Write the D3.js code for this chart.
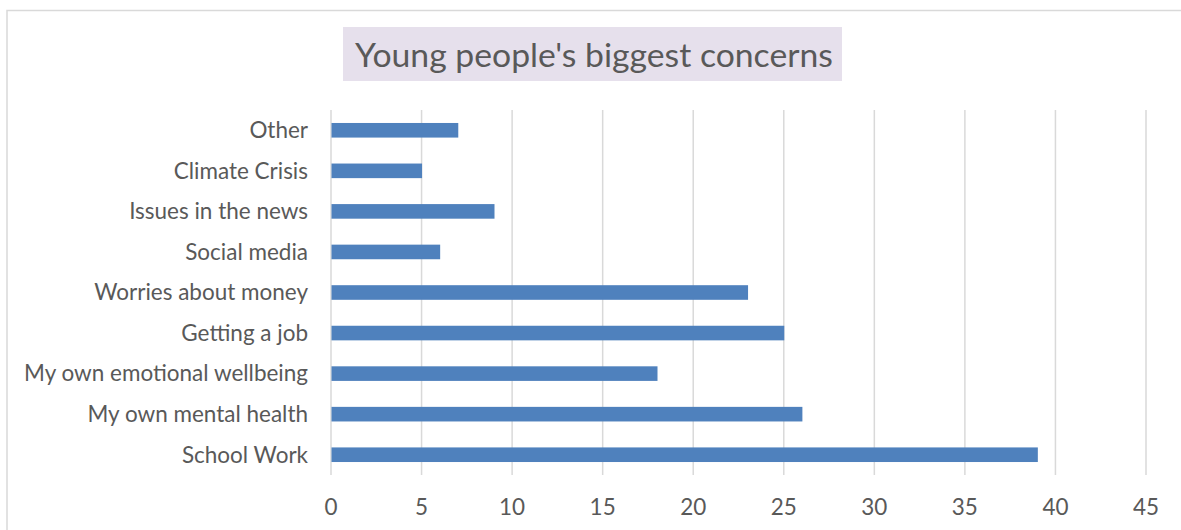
<!DOCTYPE html>
<html>
<head>
<meta charset="utf-8">
<script src="https://cdn.jsdelivr.net/npm/d3@7"></script>
<style>
  html, body { margin: 0; padding: 0; background: #fff; }
  svg { display: block; }
  text { font-family: Lato, "Open Sans", sans-serif; fill: #595959; }
</style>
</head>
<body>
<svg id="chart" width="1181" height="530"></svg>
<script>
// data, top-down as shown in the chart
var categories = ["Other", "Climate Crisis", "Issues in the news", "Social media",
  "Worries about money", "Getting a job", "My own emotional wellbeing",
  "My own mental health", "School Work"];
var counts = [7, 5, 9, 6, 23, 25, 18, 26, 39];
var xTicks = [0, 5, 10, 15, 20, 25, 30, 35, 40, 45];
var title = "Young people's biggest concerns";

var W = 1181, H = 530;
var svg = d3.select("#chart");

// outer chart border (runs off the right/bottom edge)
svg.append("rect")
  .attr("x", 7).attr("y", 10.5)
  .attr("width", W + 20).attr("height", H + 20)
  .attr("fill", "none")
  .attr("stroke", "#d9d9d9")
  .attr("stroke-width", 1.5);

var x = d3.scaleLinear().domain([0, 45]).range([331, 1146]);
var y = d3.scaleBand().domain(categories).range([110, 475]).paddingInner(0.64).paddingOuter(0.32);

// gridlines
svg.append("g").selectAll("line")
  .data(xTicks)
  .join("line")
  .attr("x1", function(d) { return x(d); })
  .attr("x2", function(d) { return x(d); })
  .attr("y1", 110).attr("y2", 475)
  .attr("stroke", "#d9d9d9")
  .attr("stroke-width", 1.5);

// bars
svg.append("g").selectAll("rect")
  .data(counts)
  .join("rect")
  .attr("x", x(0) + 0.5)
  .attr("y", function(d, i) { return y(categories[i]); })
  .attr("width", function(d) { return x(d) - x(0); })
  .attr("height", y.bandwidth())
  .attr("fill", "#4f81bd");

// category labels
var labels = svg.append("g").selectAll("text")
  .data(categories)
  .join("text")
  .attr("x", 308)
  .attr("y", function(d) { return y(d) + y.bandwidth() / 2; })
  .attr("dy", "0.35em")
  .attr("text-anchor", "end")
  .style("font-size", "19px")
  .text(function(d) { return d; });

// fit label size so the longest one spans about as wide as in the original
var longest = labels.filter(function(d) { return d == "My own emotional wellbeing"; }).node();
var fs = 19 * 284 / longest.getComputedTextLength();
labels.style("font-size", fs + "px");

// x tick labels
svg.append("g").selectAll("text")
  .data(xTicks)
  .join("text")
  .attr("x", function(d) { return x(d); })
  .attr("y", 515)
  .attr("text-anchor", "middle")
  .style("font-size", fs + "px")
  .text(function(d) { return d; });

// title with shaded box
svg.append("rect")
  .attr("x", 343).attr("y", 27)
  .attr("width", 499).attr("height", 54)
  .attr("fill", "#e6e0ec");

var t = svg.append("text")
  .attr("x", 594).attr("y", 67)
  .attr("text-anchor", "middle")
  .style("font-size", "32px")
  .text(title);
var tfs = 32 * 478 / t.node().getComputedTextLength();
t.style("font-size", tfs + "px");
</script>
</body>
</html>
